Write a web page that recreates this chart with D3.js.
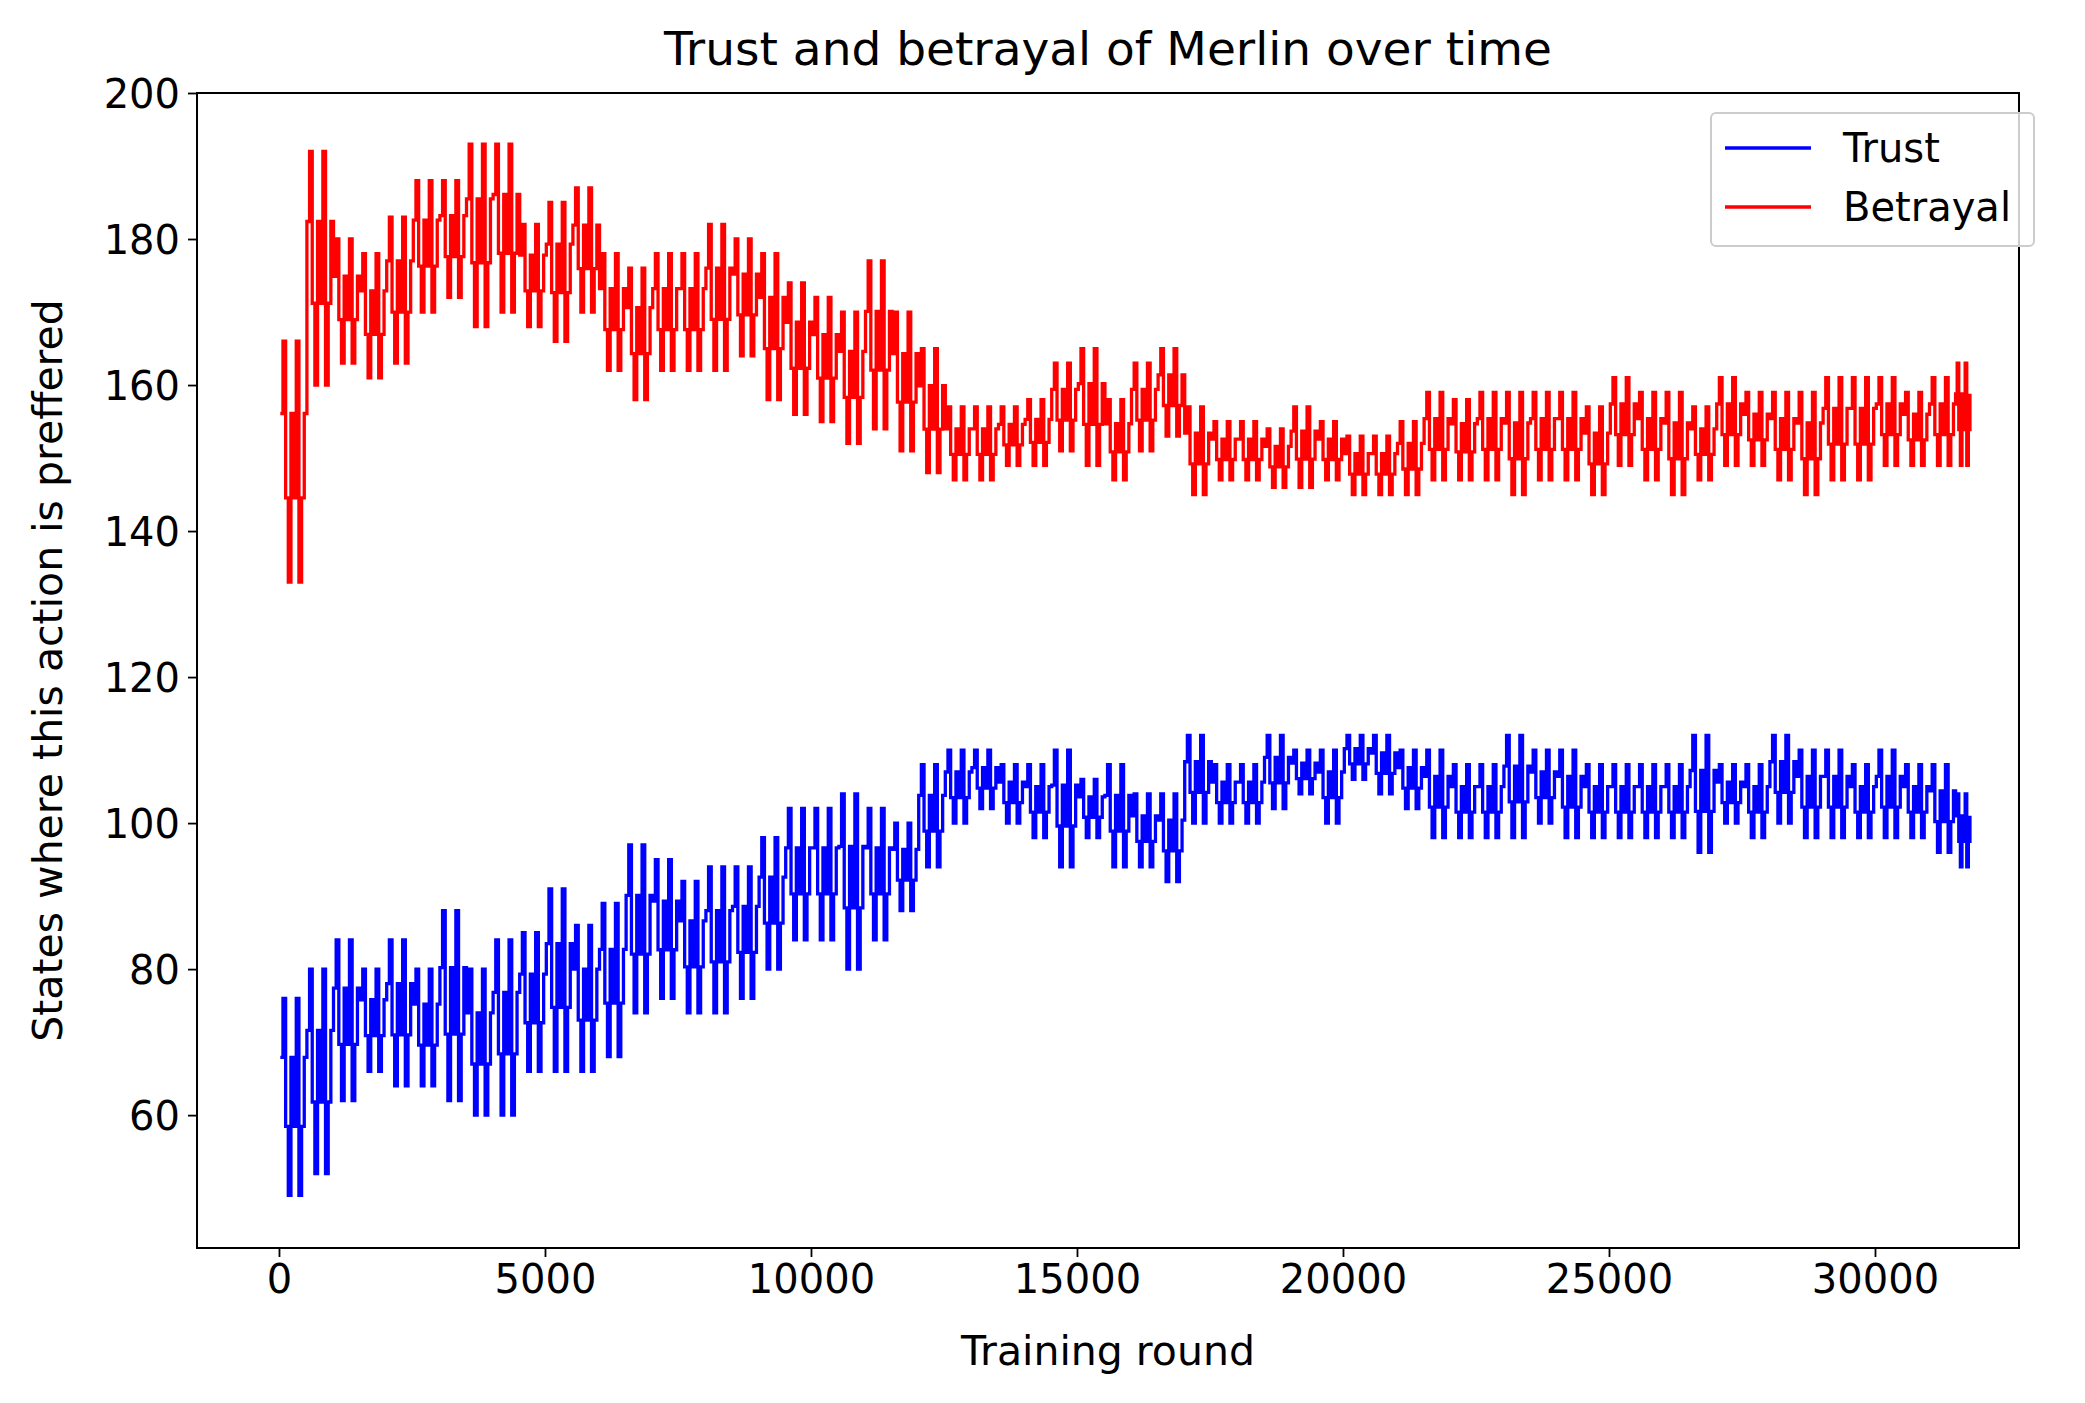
<!DOCTYPE html>
<html><head><meta charset="utf-8">
<script src="https://cdn.jsdelivr.net/npm/d3@7"></script>
<style>body{margin:0;background:#fff}svg{font-family:"DejaVu Sans",sans-serif}</style>
</head><body><svg id="c" width="2085" height="1403"></svg>
<script>
const binStart=[0,500,1000,1500,2000,2500,3000,3500,4000,4500,5000,5500,6000,6500,7000,7500,8000,8500,9000,9500,10000,10500,11000,11500,12000,12500,13000,13500,14000,14500,15000,15500,16000,16500,17000,17500,18000,18500,19000,19500,20000,20500,21000,21500,22000,22500,23000,23500,24000,24500,25000,25500,26000,26500,27000,27500,28000,28500,29000,29500,30000,30500,31000,31500];
const betrayalLo=[133,160,163,161,163,170,172,168,170,168,166,170,162,158,162,162,162,164,158,156,155,152,154,151,148,147,147,149,149,151,149,147,151,153,145,147,147,146,146,147,145,145,145,147,147,147,145,147,147,145,149,147,145,147,149,149,147,145,147,147,149,149,149,149];
const betrayalHi=[166,192,180,178,183,188,188,193,193,182,185,187,178,176,178,178,182,180,178,174,172,170,177,170,165,157,157,157,158,163,165,158,163,165,157,155,155,154,157,155,153,153,155,159,158,159,159,159,159,157,161,159,159,157,161,159,159,159,161,161,161,159,161,163];
const trustLo=[49,52,62,66,64,64,62,60,60,66,66,66,68,74,76,74,74,76,80,84,84,80,84,88,94,100,102,100,98,94,98,94,94,92,100,100,100,102,104,100,106,104,102,98,98,98,98,100,98,98,98,98,98,96,100,98,100,98,98,98,98,98,96,94];
const trustHi=[76,80,84,80,84,80,88,80,84,85,91,86,89,97,95,92,94,94,98,102,102,104,102,100,108,110,110,108,108,110,106,108,104,104,112,108,108,112,110,110,112,112,110,110,108,108,112,110,110,108,108,108,108,112,108,108,112,110,110,108,110,108,108,104];
const xTicks=[0,5000,10000,15000,20000,25000,30000];
const yTicks=[60,80,100,120,140,160,180,200];
const lastX=31800;

const svg=d3.select("#c");
const L=197,R=2019,T=93,B=1248;
const x=d3.scaleLinear().domain([-1541,32707]).range([L,R]);
const y=d3.scaleLinear().domain([41.8,200]).range([B,T]);
function pts(lo,hi){
  const p=[];
  binStart.forEach((s,i)=>{
    const w=(i<binStart.length-1?binStart[i+1]:lastX)-s;
    const m1=lo[i]+(hi[i]-lo[i])*0.35, m2=lo[i]+(hi[i]-lo[i])*0.7;
    const seq=[m2,hi[i],m1,lo[i],m2,m1,hi[i],lo[i],m1,m2];
    seq.forEach((v,k)=>p.push([s+w*(k+0.5)/seq.length,v]));
  });
  return p;
}
const line=d3.line().x(d=>x(d[0])).y(d=>y(d[1])).curve(d3.curveStepAfter);
const g=svg.append("g");
g.append("path").attr("d",line(pts(trustLo,trustHi))).attr("fill","none").attr("stroke","#0000ff").attr("stroke-width",3.3);
g.append("path").attr("d",line(pts(betrayalLo,betrayalHi))).attr("fill","none").attr("stroke","#ff0000").attr("stroke-width",3.3);

const xa=svg.append("g").attr("transform",`translate(0,${B})`).call(d3.axisBottom(x).tickValues(xTicks).tickFormat(d3.format("d")).tickSize(9).tickPadding(8));
const ya=svg.append("g").attr("transform",`translate(${L},0)`).call(d3.axisLeft(y).tickValues(yTicks).tickSize(9).tickPadding(8));
[xa,ya].forEach(a=>{a.select(".domain").remove();a.selectAll("text").attr("font-size",40).attr("fill","#000").attr("font-family","DejaVu Sans");a.selectAll("line").attr("stroke-width",1.8);});
ya.selectAll("text").attr("dy","0.35em");
svg.append("rect").attr("x",L).attr("y",T).attr("width",R-L).attr("height",B-T).attr("fill","none").attr("stroke","#000").attr("stroke-width",2);

svg.append("text").attr("x",(L+R)/2).attr("y",65).attr("text-anchor","middle").attr("font-size",47).text("Trust and betrayal of Merlin over time");
svg.append("text").attr("x",(L+R)/2).attr("y",1365).attr("text-anchor","middle").attr("font-size",41).text("Training round");
svg.append("text").attr("transform",`translate(62,${(T+B)/2}) rotate(-90)`).attr("text-anchor","middle").attr("font-size",41).text("States where this action is preffered");

const lg=svg.append("g");
lg.append("rect").attr("x",1711).attr("y",113).attr("width",323).attr("height",133).attr("rx",5).attr("fill","#fff").attr("fill-opacity",0.8).attr("stroke","#ccc").attr("stroke-width",2);
[["Trust","#0000ff",148],["Betrayal","#ff0000",207]].forEach(([t,c,yy])=>{
  lg.append("line").attr("x1",1725).attr("x2",1811).attr("y1",yy).attr("y2",yy).attr("stroke",c).attr("stroke-width",3.3);
  lg.append("text").attr("x",1843).attr("y",yy+14).attr("font-size",40).text(t);
});
</script></body></html>
